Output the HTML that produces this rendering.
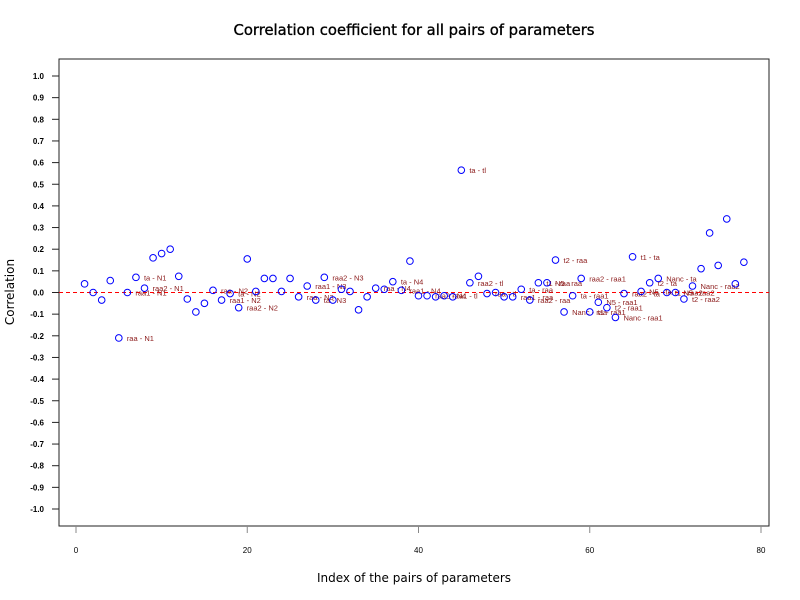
<!DOCTYPE html>
<html><head><meta charset="utf-8"><style>
body{margin:0;background:#fff}
svg{display:block;font-family:"Liberation Sans","DejaVu Sans",sans-serif}
</style></head><body>
<svg id="chart" width="800" height="600" viewBox="0 0 800 600">
<rect width="800" height="600" fill="#fff"/>
<text x="414" y="35" text-anchor="middle" font-size="14.8" stroke="#000" stroke-width="0.35" font-family="DejaVu Sans, sans-serif">Correlation coefficient for all pairs of parameters</text>
<text x="414" y="582" text-anchor="middle" font-size="12" font-family="DejaVu Sans, sans-serif">Index of the pairs of parameters</text>
<text x="14" y="292" text-anchor="middle" font-size="12" font-family="DejaVu Sans, sans-serif" transform="rotate(-90 14 292)">Correlation</text>
<rect x="59" y="59" width="710" height="467" fill="none" stroke="#222" stroke-width="1"/>
<g id="yaxis"></g>
<g id="xaxis"></g>
<line id="zero" stroke="#f00" stroke-dasharray="4,3" stroke-width="1"/>
<g id="pts"></g>
</svg>
<script>
const values = [0.04,0.0,-0.035,0.055,-0.21,0.0,0.07,0.02,0.16,0.18,0.20,0.075,-0.03,-0.09,-0.05,0.01,-0.035,-0.005,-0.07,0.155,
0.005,0.065,0.065,0.005,0.065,-0.02,0.03,-0.035,0.07,-0.035,0.015,0.005,-0.08,-0.02,0.02,0.015,0.05,0.01,0.145,-0.015,
-0.015,-0.02,-0.015,-0.02,0.565,0.045,0.075,-0.005,0.0,-0.02,-0.02,0.015,-0.035,0.045,0.045,0.15,-0.09,-0.015,0.065,-0.09,
-0.045,-0.07,-0.115,-0.005,0.165,0.005,0.045,0.065,0.0,0.0,-0.03,0.03,0.11,0.275,0.125,0.34,0.04,0.14];
const labels = ["","","","","raa - N1","raa1 - N1","ta - N1","raa2 - N1","","","","","","","","raa - N2","raa1 - N2","ta - N2","raa2 - N2","",
"","","","","","raa - N3","raa1 - N3","ta - N3","raa2 - N3","","","","","","raa - N4","","ta - N4","raa1 - N4","","",
"raa2 - N4","","raa1 - tl","","ta - tl","raa2 - tl","","raa - tl","","","raa1 - raa","ta - raa","raa2 - raa","t1 - raa","N5 - raa","t2 - raa","Nanc - raa","ta - raa1","raa2 - raa1","t1 - raa1",
"N5 - raa1","t2 - raa1","Nanc - raa1","raa2 - ta","t1 - ta","N5 - ta","t2 - ta","Nanc - ta","t1 - raa2","N5 - raa2","t2 - raa2","Nanc - raa2","","","","","",""];
const yTicks = [1.0,0.9,0.8,0.7,0.6,0.5,0.4,0.3,0.2,0.1,0.0,-0.1,-0.2,-0.3,-0.4,-0.5,-0.6,-0.7,-0.8,-0.9,-1.0];
const xTicks = [0,20,40,60,80];
const NS='http://www.w3.org/2000/svg';
const xs = i => 76 + i*(761-76)/80;
const ys = v => 292.5 - v*216.5;
const ya=document.getElementById('yaxis'), xa=document.getElementById('xaxis'), pg=document.getElementById('pts');
function mk(tag,attrs,parent){const e=document.createElementNS(NS,tag);for(const k in attrs)e.setAttribute(k,attrs[k]);parent.appendChild(e);return e;}
yTicks.forEach(t=>{
  const l=mk('line',{x1:52,x2:59,y1:ys(t),y2:ys(t),stroke:'#222'},ya);
  
  
  const tx=mk('text',{x:44,y:ys(t)+3,'text-anchor':'end','font-size':8,'font-weight':'bold'},ya);
  tx.textContent=t.toFixed(1);
  
  
});
xTicks.forEach(t=>{
  const l=mk('line',{x1:xs(t),x2:xs(t),y1:526,y2:533,stroke:'#888'},xa);
  
  
  const tx=mk('text',{x:xs(t),y:553,'text-anchor':'middle','font-size':8},xa);
  tx.textContent=String(t);
  
  
});
const z=document.getElementById('zero');
z.setAttribute('x1',59);z.setAttribute('x2',769);z.setAttribute('y1',ys(0));z.setAttribute('y2',ys(0));
values.forEach((v,i)=>{
  const c=mk('circle',{cx:xs(i+1),cy:ys(v),r:3.3,fill:'none',stroke:'#00f','stroke-width':1},pg);
  
  
  if(labels[i]){
    const t=mk('text',{x:xs(i+1)+8,y:ys(v)+3,'font-size':7.5,fill:'#8b1a1a'},pg);
    t.textContent=labels[i];
    
    
  }
});
</script>
</body></html>
